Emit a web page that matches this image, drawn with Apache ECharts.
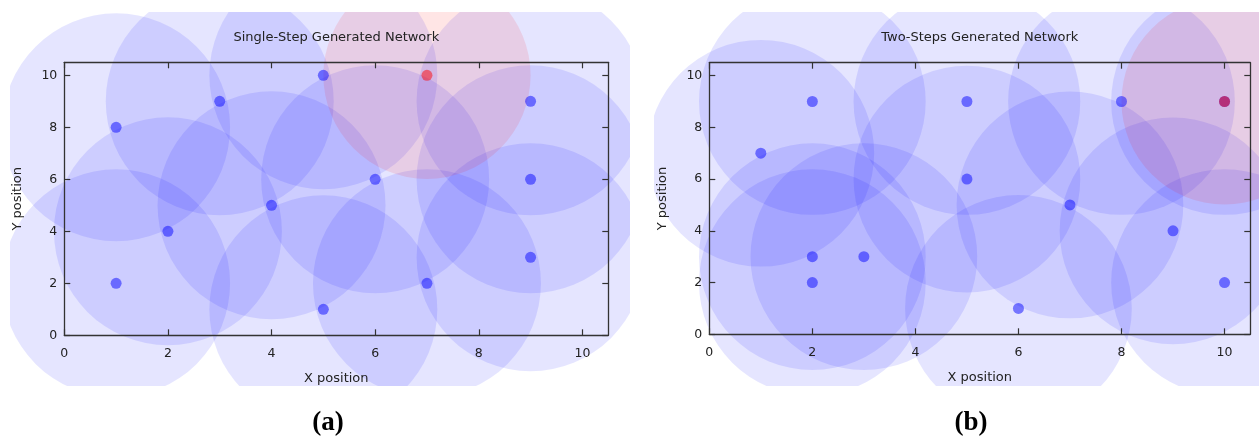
<!DOCTYPE html>
<html>
<head>
<meta charset="utf-8">
<script src="https://cdn.jsdelivr.net/npm/echarts@6.0.0/dist/echarts.min.js"></script>
<style>
html,body{margin:0;padding:0;background:#fff;}
#main{width:1259px;height:438px;}
</style>
</head>
<body>
<div id="main"></div>
<script>
// ---- data ----
const ticks = [0, 2, 4, 6, 8, 10];
const titleA = 'Single-Step Generated Network';
const titleB = 'Two-Steps Generated Network';
const xName = 'X position';
const yName = 'Y position';
const panelLabels = ['(a)', '(b)'];
const nodesA = [[1,2],[1,8],[2,4],[3,9],[4,5],[5,10],[5,1],[6,6],[7,2],[9,9],[9,6],[9,3]];
const sinkA = [[7,10]];
const nodesB = [[1,7],[2,9],[2,3],[2,2],[3,3],[5,9],[5,6],[6,1],[7,5],[8,9],[9,4],[10,2],[10,9]];
const sinkB = [[10,9]];
const nodeRange = 2.2;
const sinkRange = 2.0;

const chart = echarts.init(document.getElementById('main'), null, {renderer: 'canvas'});
const FONT = 'DejaVu Sans';
const LINE = '#333';
const grids = [
  {left: 64.3, top: 62.3, width: 544, height: 273},
  {left: 709.3, top: 62.7, width: 541, height: 271.6}
];

function xAxis(gi, pos) {
  const main = pos === 'bottom';
  return {
    type: 'value', gridIndex: gi, position: pos, min: 0, max: 10.5, interval: 2, z: 10,
    name: main ? xName : '', nameLocation: 'middle', nameGap: 37,
    nameTextStyle: {fontFamily: FONT, fontSize: 13, color: '#222'},
    axisLine: {show: true, onZero: false, lineStyle: {color: LINE, width: 1.3}},
    axisTick: {show: true, inside: true, length: 6, customValues: ticks, lineStyle: {color: LINE, width: 1.2}},
    axisLabel: {show: main, customValues: ticks, margin: 12, fontFamily: FONT, fontSize: 12.5, color: '#222'},
    splitLine: {show: false}
  };
}
function yAxis(gi, pos) {
  const main = pos === 'left';
  return {
    type: 'value', gridIndex: gi, position: pos, min: 0, max: 10.5, interval: 2, z: 10,
    name: main ? yName : '', nameLocation: 'middle', nameGap: 40,
    nameTextStyle: {fontFamily: FONT, fontSize: 13, color: '#222'},
    axisLine: {show: true, onZero: false, lineStyle: {color: LINE, width: 1.3}},
    axisTick: {show: true, inside: true, length: 6, customValues: ticks, lineStyle: {color: LINE, width: 1.2}},
    axisLabel: {show: main, customValues: ticks, margin: 7, fontFamily: FONT, fontSize: 12.5, color: '#222'},
    splitLine: {show: false}
  };
}

function rangeSeries(data, gi, radius, fill) {
  return {
    type: 'custom', xAxisIndex: gi * 2, yAxisIndex: gi * 2, z: 1, clip: false, silent: true,
    data: data,
    renderItem: function (params, api) {
      const c = api.coord([api.value(0), api.value(1)]);
      const r = api.size([radius, 0])[0];
      return {type: 'circle', shape: {cx: c[0], cy: c[1], r: r}, style: {fill: fill}};
    }
  };
}
function dotSeries(data, gi, color) {
  return {
    type: 'scatter', xAxisIndex: gi * 2, yAxisIndex: gi * 2, z: 3, symbolSize: 11,
    itemStyle: {color: color}, data: data, silent: true
  };
}

const BLUE_RANGE = 'rgba(0,0,255,0.1)';
const RED_RANGE = 'rgba(255,0,0,0.1)';
const BLUE_DOT = 'rgba(10,10,255,0.64)';
const RED_DOT = 'rgba(255,0,0,0.62)';

const option = {
  animation: false,
  backgroundColor: '#ffffff',
  title: [
    {text: titleA, left: grids[0].left + grids[0].width / 2, top: 31, textAlign: 'center', padding: 0,
     textStyle: {fontFamily: FONT, fontSize: 13, fontWeight: 'normal', color: '#222'}},
    {text: titleB, left: grids[1].left + grids[1].width / 2, top: 31, textAlign: 'center', padding: 0,
     textStyle: {fontFamily: FONT, fontSize: 13, fontWeight: 'normal', color: '#222'}}
  ],
  grid: grids,
  xAxis: [xAxis(0, 'bottom'), xAxis(0, 'top'), xAxis(1, 'bottom'), xAxis(1, 'top')],
  yAxis: [yAxis(0, 'left'), yAxis(0, 'right'), yAxis(1, 'left'), yAxis(1, 'right')],
  series: [
    rangeSeries(nodesA, 0, nodeRange, BLUE_RANGE),
    rangeSeries(sinkA, 0, sinkRange, RED_RANGE),
    dotSeries(nodesA, 0, BLUE_DOT),
    dotSeries(sinkA, 0, RED_DOT),
    rangeSeries(nodesB, 1, nodeRange, BLUE_RANGE),
    rangeSeries(sinkB, 1, sinkRange, RED_RANGE),
    dotSeries(nodesB, 1, BLUE_DOT),
    dotSeries(sinkB, 1, RED_DOT)
  ],
  graphic: [
    {type: 'rect', z: 100, silent: true, shape: {x: 0, y: 0, width: 1259, height: 12}, style: {fill: '#fff'}},
    {type: 'rect', z: 100, silent: true, shape: {x: 0, y: 386, width: 1259, height: 52}, style: {fill: '#fff'}},
    {type: 'rect', z: 100, silent: true, shape: {x: 0, y: 0, width: 10, height: 438}, style: {fill: '#fff'}},
    {type: 'rect', z: 100, silent: true, shape: {x: 630, y: 0, width: 24, height: 438}, style: {fill: '#fff'}},
    {type: 'text', z: 101, silent: true, x: 328, y: 423,
     style: {text: panelLabels[0], fontFamily: 'Liberation Serif', fontWeight: 'bold', fontSize: 27, fill: '#000', align: 'center', verticalAlign: 'middle'}},
    {type: 'text', z: 101, silent: true, x: 971, y: 423,
     style: {text: panelLabels[1], fontFamily: 'Liberation Serif', fontWeight: 'bold', fontSize: 27, fill: '#000', align: 'center', verticalAlign: 'middle'}}
  ]
};
chart.setOption(option);
</script>
</body>
</html>
